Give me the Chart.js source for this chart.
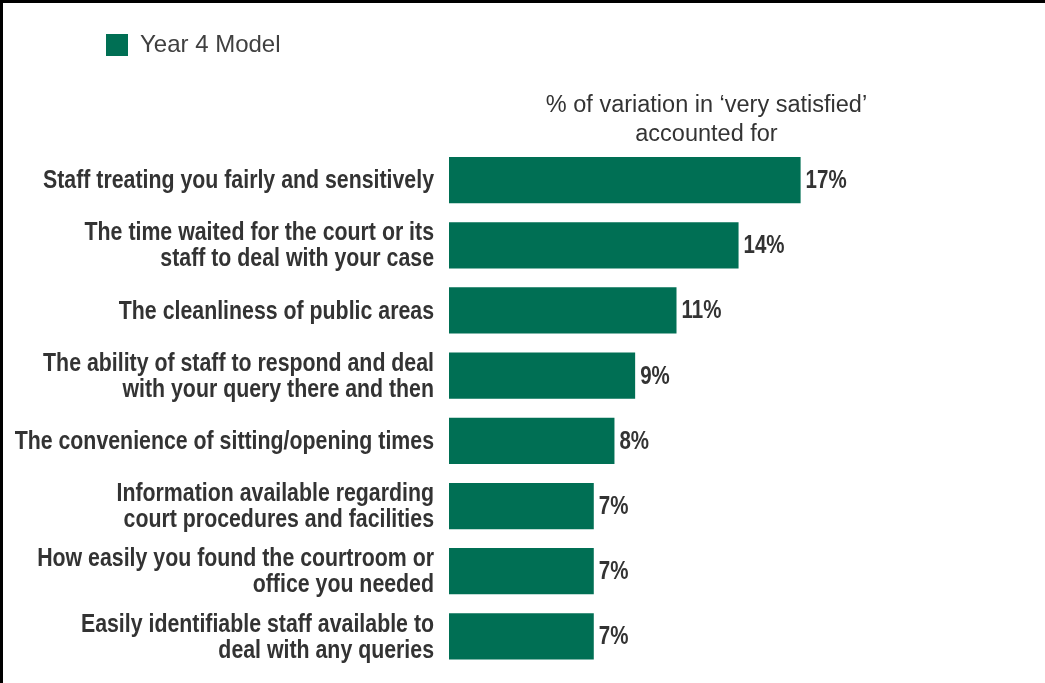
<!DOCTYPE html>
<html>
<head>
<meta charset="utf-8">
<script src="https://cdn.jsdelivr.net/npm/chart.js@4"></script>
<style>
  html, body { margin: 0; padding: 0; background: #fff; }
  #wrap { position: relative; width: 1045px; height: 683px; }
  #frame { position: absolute; left: 0; top: 0; right: 0; bottom: 0;
           border-left: 3px solid #000; border-top: 3px solid #000; pointer-events: none; }
</style>
</head>
<body>
<div id="wrap">
  <canvas id="driversChart" width="1045" height="683"></canvas>
  <div id="frame"></div>
</div>
<script>
const categories = [
    'Staff treating you fairly and sensitively',
    ['The time waited for the court or its', 'staff to deal with your case'],
    'The cleanliness of public areas',
    ['The ability of staff to respond and deal', 'with your query there and then'],
    'The convenience of sitting/opening times',
    ['Information available regarding', 'court procedures and facilities'],
    ['How easily you found the courtroom or', 'office you needed'],
    ['Easily identifiable staff available to', 'deal with any queries']
];
const year4Values = [17, 14, 11, 9, 8, 7, 7, 7];
const axisTitle = ['% of variation in \u2018very satisfied\u2019', 'accounted for'];

const sans = "'Liberation Sans', Arial, sans-serif";
const green = '#006F54';
const narrowScale = 0.82;   // squeeze bold text to a narrow cut

// write text squeezed horizontally around an anchor point
function narrowText(c, text, x, y, align) {
    c.save();
    c.translate(x, y);
    c.scale(narrowScale, 1);
    c.textAlign = align;
    c.fillText(text, 0, 0);
    c.restore();
}

// category names, right-aligned against the bars
const categoryLabels = {
    id: 'categoryLabels',
    afterDraw(chart) {
        const c = chart.ctx;
        const yScale = chart.scales.y;
        const right = chart.chartArea.left - 15;
        const lineGap = 26;
        c.save();
        c.font = 'bold 26px ' + sans;
        c.fillStyle = '#333333';
        c.textBaseline = 'middle';
        categories.forEach((label, i) => {
            const lines = Array.isArray(label) ? label : [label];
            const mid = yScale.getPixelForValue(i);
            const first = mid - (lines.length - 1) * lineGap / 2;
            lines.forEach((line, j) => {
                narrowText(c, line, right, first + j * lineGap + 1, 'right');
            });
        });
        c.restore();
    }
};

// value labels at the end of each bar
const valueLabels = {
    id: 'valueLabels',
    afterDatasetsDraw(chart) {
        const c = chart.ctx;
        const meta = chart.getDatasetMeta(0);
        c.save();
        c.font = 'bold 25px ' + sans;
        c.fillStyle = '#333333';
        c.textBaseline = 'middle';
        meta.data.forEach((bar, i) => {
            narrowText(c, year4Values[i] + '%', bar.x + 5, bar.y + 1, 'left');
        });
        c.restore();
    }
};

const ctx = document.getElementById('driversChart').getContext('2d');
new Chart(ctx, {
    type: 'bar',
    data: {
        labels: categories,
        datasets: [{
            label: 'Year 4 Model',
            data: year4Values,
            backgroundColor: green,
            borderWidth: 0,
            categoryPercentage: 1,
            barPercentage: 0.71
        }]
    },
    options: {
        indexAxis: 'y',
        responsive: false,
        animation: false,
        layout: {
            padding: { left: 96, right: 81, top: 23, bottom: 14 }
        },
        plugins: {
            legend: {
                display: true,
                position: 'top',
                align: 'start',
                labels: {
                    boxWidth: 22,
                    boxHeight: 22,
                    padding: 10,
                    color: '#404040',
                    font: { family: sans, size: 24 }
                }
            },
            tooltip: { enabled: false }
        },
        scales: {
            x: {
                position: 'top',
                min: 0,
                max: 24.9,
                grid: { display: false, drawTicks: false },
                border: { display: false },
                ticks: { display: false },
                title: {
                    display: true,
                    text: axisTitle,
                    color: '#333333',
                    font: { family: sans, size: 23.5, lineHeight: 1.234 },
                    padding: { top: 24.5, bottom: -2 }
                }
            },
            y: {
                grid: { display: false, drawTicks: false },
                border: { display: false },
                ticks: { display: false },
                afterFit: function(scale) {
                    scale.width = 353;
                }
            }
        }
    },
    plugins: [categoryLabels, valueLabels]
});
</script>
</body>
</html>
